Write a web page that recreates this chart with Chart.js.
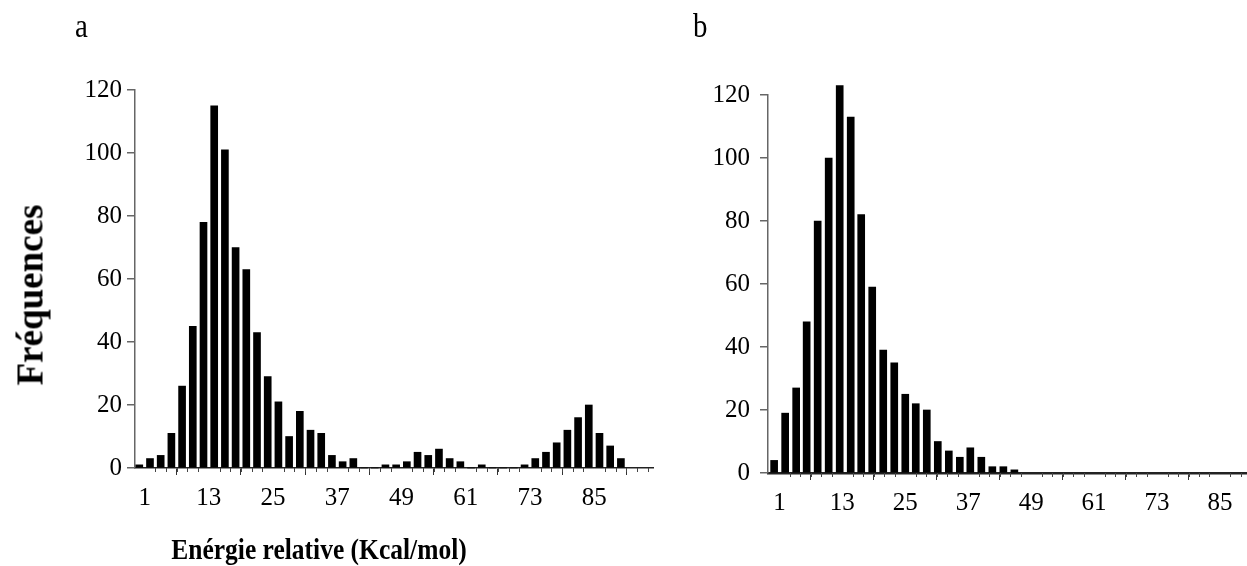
<!DOCTYPE html>
<html>
<head>
<meta charset="utf-8">
<script src="https://cdn.jsdelivr.net/npm/chart.js@4.4.1/dist/chart.umd.min.js"></script>
<style>
    body { margin: 0; background: #fff; width: 1247px; height: 566px; overflow: hidden; position: relative; font-family: "Liberation Serif", "Times New Roman", serif; }
    .lbl { position: absolute; white-space: nowrap; color: #000; }
    #boxA { position: absolute; left: 0; top: 0; width: 680px; height: 566px; }
    #boxB { position: absolute; left: 680px; top: 0; width: 567px; height: 566px; }
</style>
</head>
<body>
<div id="boxA"><canvas id="chartA" width="680" height="566"></canvas></div>
<div id="boxB"><canvas id="chartB" width="567" height="566"></canvas></div>

<div class="lbl" style="left:75px; top:9px; font-size:34px; line-height:34px; transform:scaleX(0.85); transform-origin:left top;">a</div>
<div class="lbl" style="left:693px; top:9px; font-size:34px; line-height:34px; transform:scaleX(0.85); transform-origin:left top;">b</div>
<div class="lbl" style="left:30px; top:295px; font-size:37px; line-height:37px; font-weight:bold; transform:translate(-50%,-50%) rotate(-90deg);">Fréquences</div>
<div class="lbl" style="left:319px; top:534px; font-size:30px; line-height:30px; font-weight:bold; transform:translateX(-50%) scaleX(0.85);">Enérgie relative (Kcal/mol)</div>

<script>
// panel a: bin centres (Kcal/mol) and counts
var centresA = [0, 2, 4, 6, 8, 10, 12, 14, 16, 18, 20, 22, 24, 26, 28, 30, 32, 34, 36, 38, 40, 42, 44,
    46, 48, 50, 52, 54, 56, 58, 60, 62, 64, 66, 68, 70, 72, 74, 76, 78, 80, 82, 84, 86, 88, 90];
var countsA = [1, 3, 4, 11, 26, 45, 78, 115, 101, 70, 63, 43, 29, 21, 10, 18, 12, 11, 4, 2, 3, 0, 0,
    1, 1, 2, 5, 4, 6, 3, 2, 0, 1, 0, 0, 0, 1, 3, 5, 8, 12, 16, 20, 11, 7, 3];

// panel b
var centresB = [0, 2.1, 4.2, 6.2, 8.3, 10.4, 12.5, 14.6, 16.6, 18.7, 20.8, 22.9, 25.0, 27.0, 29.1,
    31.2, 33.3, 35.4, 37.4, 39.5, 41.6, 43.7, 45.8];
var countsB = [4, 19, 27, 48, 80, 100, 123, 113, 82, 59, 39, 35, 25, 22, 20, 10, 7, 5, 8, 5, 2, 2, 1];

var xTicks = [1, 13, 25, 37, 49, 61, 73, 85];
var yTicks = [0, 20, 40, 60, 80, 100, 120];

// little ticks every 2 units between the labelled ones
var minorTicks = {
    id: 'minorTicks',
    afterDraw: function (chart) {
        var sx = chart.scales.x;
        var ctx = chart.ctx;
        var y0 = chart.chartArea.bottom;
        ctx.save();
        ctx.strokeStyle = '#444';
        ctx.lineWidth = 1;
        for (var v = 1; v <= sx.max; v += 2) {
            if (xTicks.indexOf(v) >= 0) continue;
            var px = Math.round(sx.getPixelForValue(v)) + 0.5;
            ctx.beginPath();
            ctx.moveTo(px, y0);
            ctx.lineTo(px, y0 + 4);
            ctx.stroke();
        }
        ctx.restore();
    }
};

function makeChart(id, centres, counts, opts) {
    var points = centres.map(function (c, i) {
        return { x: c, y: counts[i] };
    });
    var tickFont = { family: 'Liberation Serif', size: 25 };

    return new Chart(document.getElementById(id).getContext('2d'), {
        type: 'bar',
        data: {
            datasets: [{
                data: points,
                backgroundColor: '#000',
                borderWidth: 0,
                barThickness: 7,
                clip: false
            }]
        },
        options: {
            responsive: false,
            animation: false,
            layout: { padding: opts.padding },
            plugins: {
                legend: { display: false },
                tooltip: { enabled: false }
            },
            scales: {
                x: {
                    type: 'linear',
                    offset: false,
                    min: opts.xMin,
                    max: opts.xMax,
                    afterBuildTicks: function (s) {
                        s.ticks = xTicks.map(function (v) { return { value: v }; });
                    },
                    afterFit: function (s) { s.height = 60; },
                    ticks: {
                        font: tickFont,
                        color: '#000',
                        padding: 8,
                        maxRotation: 0,
                        autoSkip: false
                    },
                    grid: {
                        drawOnChartArea: false,
                        tickLength: 7,
                        tickColor: '#333',
                        lineWidth: 1
                    },
                    border: { color: '#222', width: opts.xBorder }
                },
                y: {
                    min: 0,
                    max: 120,
                    afterBuildTicks: function (s) {
                        s.ticks = yTicks.map(function (v) { return { value: v }; });
                    },
                    afterFit: function (s) { s.width = opts.yWidth; },
                    ticks: {
                        font: tickFont,
                        color: '#000',
                        padding: opts.yPad
                    },
                    grid: {
                        drawOnChartArea: false,
                        tickLength: 8,
                        tickColor: '#666',
                        lineWidth: 1.5
                    },
                    border: { color: '#666', width: 1.5 }
                }
            }
        },
        plugins: [minorTicks]
    });
}

makeChart('chartA', centresA, countsA, {
    padding: { left: 0, top: 90, right: 27, bottom: 38 },
    xMin: -0.8, xMax: 96, yWidth: 135, yPad: 5, xBorder: 1.5
});

makeChart('chartB', centresB, countsB, {
    padding: { left: 0, top: 95, right: 0, bottom: 33 },
    xMin: -1.17, xMax: 90.15, yWidth: 88, yPad: 10, xBorder: 2.5
});
</script>
</body>
</html>
